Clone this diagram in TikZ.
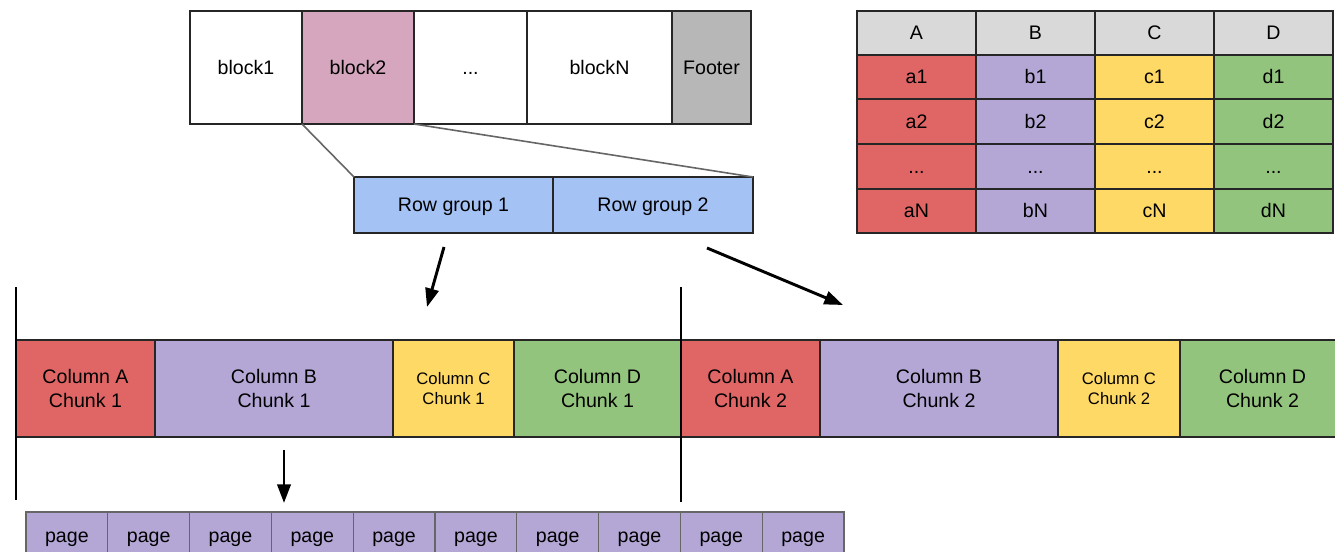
\documentclass[tikz,border=0pt]{standalone}
\usepackage{fontspec}
\setmainfont{Liberation Sans}
\usetikzlibrary{arrows.meta}
\definecolor{cred}{HTML}{E06666}
\definecolor{cpurple}{HTML}{B4A7D6}
\definecolor{cyellow}{HTML}{FFD966}
\definecolor{cgreen}{HTML}{93C47D}
\definecolor{cpink}{HTML}{D5A6BD}
\definecolor{cblue}{HTML}{A4C2F4}
\definecolor{chead}{HTML}{D9D9D9}
\definecolor{cfoot}{HTML}{B7B7B7}
\newcommand{\cbox}[8][oneline]{\node[cellbase,fill=#7,#1,minimum width={(#4-#2)*0.75pt},minimum height={(#5-#3)*0.75pt}] (#6) at ({(#2+#4)/2},{(#3+#5)/2}) {#8};}
\tikzset{
  cellbase/.style={draw=black!85,line width=0.8pt,inner sep=0pt,outer sep=0pt,align=center,font=\fontsize{14.7}{18}\selectfont},
  oneline/.style={text height=10.4pt,text depth=0pt},
  twoline/.style={font=\fontsize{14.7}{18}\selectfont},
  smalltxt/.style={font=\fontsize{12.5}{15}\selectfont},
  pagebox/.style={oneline,draw=black!60},
  zoomline/.style={draw=black!60,line width=1.2pt},
  bigarrow/.style={line width=2.2pt,-{Triangle[length=14pt,width=10pt]}},
  divider/.style={line width=1.3pt}
}
\begin{document}
\begin{tikzpicture}[x=0.75pt,y=-0.75pt]
\clip (0,0) rectangle (1335,552);
\fill[white] (0,0) rectangle (1335,552);
% file blocks
\cbox{190}{11}{302}{124}{b1}{white}{block1}
\cbox{302}{11}{414}{124}{b2}{cpink}{block2}
\cbox{414}{11}{527}{124}{bdots}{white}{...}
\cbox{527}{11}{672}{124}{bN}{white}{blockN}
\cbox{672}{11}{751}{124}{foot}{cfoot}{Footer}
% row groups
\cbox{354}{177}{553}{233}{rg1}{cblue}{Row group 1}
\cbox{553}{177}{753}{233}{rg2}{cblue}{Row group 2}
\draw[zoomline] (b2.south west) -- (rg1.north west);
\draw[zoomline] (b2.south east) -- (rg2.north east);
% table
\cbox{857}{11}{976}{55}{hA}{chead}{A}
\cbox{976}{11}{1095}{55}{hB}{chead}{B}
\cbox{1095}{11}{1214}{55}{hC}{chead}{C}
\cbox{1214}{11}{1333}{55}{hD}{chead}{D}
\cbox{857}{55}{976}{99}{a1}{cred}{a1}
\cbox{976}{55}{1095}{99}{bb1}{cpurple}{b1}
\cbox{1095}{55}{1214}{99}{c1}{cyellow}{c1}
\cbox{1214}{55}{1333}{99}{d1}{cgreen}{d1}
\cbox{857}{99}{976}{144}{a2}{cred}{a2}
\cbox{976}{99}{1095}{144}{bb2}{cpurple}{b2}
\cbox{1095}{99}{1214}{144}{c2}{cyellow}{c2}
\cbox{1214}{99}{1333}{144}{d2}{cgreen}{d2}
\cbox{857}{144}{976}{189}{a3}{cred}{...}
\cbox{976}{144}{1095}{189}{bb3}{cpurple}{...}
\cbox{1095}{144}{1214}{189}{c3}{cyellow}{...}
\cbox{1214}{144}{1333}{189}{d3}{cgreen}{...}
\cbox{857}{189}{976}{233}{aN}{cred}{aN}
\cbox{976}{189}{1095}{233}{bbN}{cpurple}{bN}
\cbox{1095}{189}{1214}{233}{cN}{cyellow}{cN}
\cbox{1214}{189}{1333}{233}{dN}{cgreen}{dN}
% column chunks
\cbox[twoline]{16}{340}{155}{437}{ca1}{cred}{Column A\\Chunk 1}
\cbox[twoline]{155}{340}{393}{437}{cb1}{cpurple}{Column B\\Chunk 1}
\cbox[smalltxt]{393}{340}{514}{437}{cc1}{cyellow}{Column C\\Chunk 1}
\cbox[twoline]{514}{340}{681}{437}{cd1}{cgreen}{Column D\\Chunk 1}
\cbox[twoline]{681}{340}{820}{437}{ca2}{cred}{Column A\\Chunk 2}
\cbox[twoline]{820}{340}{1058}{437}{cb2}{cpurple}{Column B\\Chunk 2}
\cbox[smalltxt]{1058}{340}{1180}{437}{cc2}{cyellow}{Column C\\Chunk 2}
\cbox[twoline]{1180}{340}{1345}{437}{cd2}{cgreen}{Column D\\Chunk 2}
% dividers
\coordinate (v1t) at (16,287); \coordinate (v1b) at (16,500);
\coordinate (v2t) at (681,287); \coordinate (v2b) at (681,502);
\draw[divider] (v1t) -- (v1b);
\draw[divider] (v2t) -- (v2b);
% arrows
\coordinate (a1s) at (444,247); \coordinate (a1e) at (427,307);
\coordinate (a2s) at (707,248); \coordinate (a2e) at (843,305);
\coordinate (a3s) at (284,450); \coordinate (a3e) at (284,503);
\draw[bigarrow] (a1s) -- (a1e);
\draw[bigarrow] (a2s) -- (a2e);
\draw[bigarrow] (a3s) -- (a3e);
% pages
\foreach \i in {0,...,9}{
  \pgfmathsetmacro{\xa}{26+\i*81.8}
  \pgfmathsetmacro{\xb}{26+(\i+1)*81.8}
  \cbox[pagebox]{\xa}{512}{\xb}{560}{p\i}{cpurple}{page}
}
\end{tikzpicture}
\end{document}
